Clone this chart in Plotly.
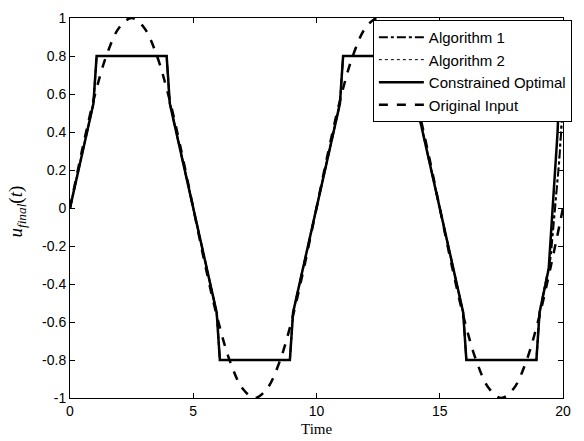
import plotly.graph_objects as go

# Constrained optimal (piecewise linear, clipped at +/-0.8)
t_con = [0, 0.95, 1.08, 3.92, 4.05, 5.95, 6.08, 8.92, 9.05, 10.95, 11.08, 13.92, 14.05,
         15.95, 16.08, 18.92, 19.05, 19.42, 19.78, 19.9]
u_con = [0, 0.55, 0.8, 0.8, 0.55, -0.55, -0.8, -0.8, -0.55, 0.55, 0.8, 0.8, 0.55,
         -0.55, -0.8, -0.8, -0.55, -0.32, 0.4, 0.8]

# Algorithm 1 (mostly hidden under constrained optimal)
t_alg1 = [0, 0.95, 1.08, 3.92, 4.05, 5.95, 6.08, 8.92, 9.05, 10.95, 11.08, 13.92, 14.05,
          15.95, 16.08, 18.92, 19.05, 19.5, 19.85, 20.0]
u_alg1 = [0, 0.55, 0.8, 0.8, 0.55, -0.55, -0.8, -0.8, -0.55, 0.55, 0.8, 0.8, 0.55,
          -0.55, -0.8, -0.8, -0.55, -0.26, 0.25, 0.55]

# Algorithm 2
t_alg2 = [0, 0.95, 1.08, 3.92, 4.05, 5.95, 6.08, 8.92, 9.05, 10.95, 11.08, 13.92, 14.05,
          15.95, 16.08, 18.92, 19.05, 19.45, 19.82, 20.0]
u_alg2 = [0, 0.55, 0.8, 0.8, 0.55, -0.55, -0.8, -0.8, -0.55, 0.55, 0.8, 0.8, 0.55,
          -0.55, -0.8, -0.8, -0.55, -0.3, 0.22, 0.6]

# Original input (read at 0.5 steps)
t_orig = [0, 0.5, 1, 1.5, 2, 2.5, 3, 3.5, 4, 4.5, 5, 5.5, 6, 6.5, 7, 7.5, 8, 8.5, 9, 9.5,
          10, 10.5, 11, 11.5, 12, 12.5, 13, 13.5, 14, 14.5, 15, 15.5, 16, 16.5, 17, 17.5,
          18, 18.5, 19, 19.5, 20]
u_orig = [0, 0.31, 0.59, 0.81, 0.95, 1.0, 0.95, 0.81, 0.59, 0.31, 0, -0.31, -0.59, -0.81,
          -0.95, -1.0, -0.95, -0.81, -0.59, -0.31, 0, 0.31, 0.59, 0.81, 0.95, 1.0, 0.95,
          0.81, 0.59, 0.31, 0, -0.31, -0.59, -0.81, -0.95, -1.0, -0.95, -0.81, -0.59,
          -0.31, 0]

x_ticks = [0, 5, 10, 15, 20]
y_ticks = [-1, -0.8, -0.6, -0.4, -0.2, 0, 0.2, 0.4, 0.6, 0.8, 1]
y_tick_text = ["-1", "-0.8", "-0.6", "-0.4", "-0.2", "0", "0.2", "0.4", "0.6", "0.8", "1"]

fig = go.Figure()
fig.add_trace(go.Scatter(x=t_alg1, y=u_alg1, mode="lines", name="Algorithm 1",
                         line=dict(color="black", width=2, dash="dashdot")))
fig.add_trace(go.Scatter(x=t_alg2, y=u_alg2, mode="lines", name="Algorithm 2",
                         line=dict(color="black", width=1, dash="dot")))
fig.add_trace(go.Scatter(x=t_con, y=u_con, mode="lines", name="Constrained Optimal",
                         line=dict(color="black", width=2.5)))
fig.add_trace(go.Scatter(x=t_orig, y=u_orig, mode="lines", name="Original Input",
                         line=dict(color="black", width=2.5, dash="dash", shape="spline")))

axis_common = dict(showgrid=False, zeroline=False, showline=True, linecolor="black",
                   linewidth=1, mirror="allticks", ticks="inside", ticklen=5,
                   tickcolor="black", tickfont=dict(family="Liberation Sans, Arial",
                                                    size=14, color="black"))
fig.update_xaxes(range=[0, 20], tickvals=x_ticks, **axis_common)
fig.update_yaxes(range=[-1, 1], tickvals=y_ticks, ticktext=y_tick_text, **axis_common)

fig.update_layout(
    width=584, height=441,
    margin=dict(l=70, r=21, t=10, b=43),
    paper_bgcolor="white", plot_bgcolor="white",
    showlegend=True,
    legend=dict(x=1.018, y=0.995, xanchor="right", yanchor="top",
                bgcolor="white", bordercolor="black", borderwidth=1,
                font=dict(family="Liberation Sans, Arial", size=15, color="black"),
                itemwidth=45, tracegroupgap=0),
    annotations=[
        dict(text="Time", xref="paper", yref="paper", x=0.499, y=-0.082,
             xanchor="center", yanchor="middle", showarrow=False,
             font=dict(family="Liberation Serif, Times New Roman, serif", size=15,
                       color="black")),
        dict(text="<i>u</i><sub><i>final</i></sub>(<i>t</i>)", xref="paper", yref="paper",
             x=-0.108, y=0.49, xanchor="center", yanchor="middle", textangle=-90,
             showarrow=False,
             font=dict(family="Liberation Serif, Times New Roman, serif", size=19,
                       color="black")),
    ],
)

fig.write_html("out.html")
